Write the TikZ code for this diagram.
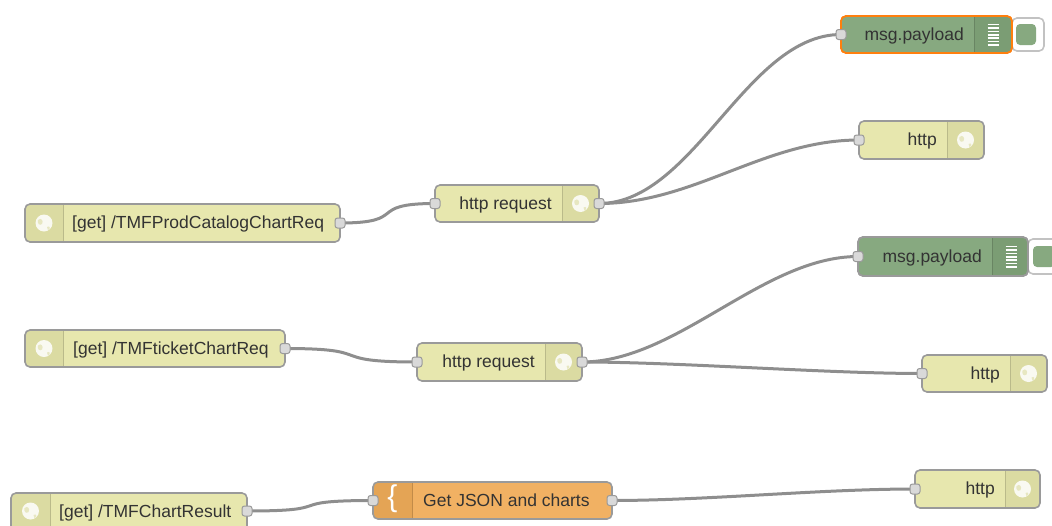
\documentclass[tikz,border=0pt]{standalone}
\usepackage{fontspec}
\setmainfont{Liberation Sans}
\definecolor{httpc}{HTML}{E7E7AE}
\definecolor{httpi}{HTML}{DBDBA2}
\definecolor{dbgc}{HTML}{87A980}
\definecolor{dbgi}{HTML}{7B9D74}
\definecolor{fnc}{HTML}{F1B163}
\definecolor{fni}{HTML}{E4A455}
\definecolor{bord}{HTML}{9A9A9A}
\definecolor{selb}{HTML}{FF7F0E}
\definecolor{txt}{HTML}{333333}
\definecolor{wirec}{HTML}{8E8E8E}
\definecolor{portc}{HTML}{D9D9D9}
\tikzset{
  nodebox/.style={inner sep=0pt, outer sep=0pt, rectangle},
  lbl/.style={inner sep=0pt, text=txt, font=\fontsize{17.5}{20}\selectfont},
  wire/.style={draw=wirec, line width=3pt},
  port/.style={draw=bord, fill=portc, line width=1pt, rounded corners=2.5pt, minimum size=10pt, inner sep=0pt},
  globe/.style={fill=white, opacity=0.85},
}
% name, l, t, r, b, sep, fill, icon fill, border colour
\newcommand\fnode[9]{%
  \pgfmathsetmacro\cx{(#2+#4)/2}\pgfmathsetmacro\cy{(#3+#5)/2}%
  \pgfmathsetmacro\ww{#4-#2}\pgfmathsetmacro\hh{#5-#3}%
  \pgfmathsetmacro\edge{(#6<\cx)?#2:#4}%
  \node[nodebox, fill=#7, rounded corners=5pt, minimum width=\ww pt, minimum height=\hh pt] (#1) at (\cx,\cy) {};
  \begin{scope}
    \clip[rounded corners=5pt] (#2,#3) rectangle (#4,#5);
    \fill[#8] (#6,#3) rectangle (\edge,#5);
    \draw[#8!85!black, line width=0.6pt] (#6,#3) -- (#6,#5);
  \end{scope}
  \draw[#9, line width=1.6pt, rounded corners=5pt] (#2,#3) rectangle (#4,#5);
}
\newcommand\globeicon[2]{%
  \begin{scope}[shift={(#1,#2)}]
    \fill[globe] (0,0) circle (8.5pt);
    \fill[httpi, opacity=0.6] (-6,-3) .. controls (-3,-6) and (0,-2) .. (-2,1) .. controls (-4,3) and (-7,1) .. cycle;
    \fill[httpi, opacity=0.6] (3,4) .. controls (6,2) and (7,6) .. (4,7) -- cycle;
  \end{scope}
}
\begin{document}
\begin{tikzpicture}[x=1pt,y=-1pt]
\useasboundingbox (0,0) rectangle (1052,525);
\clip (0,0) rectangle (1052,525);

% ---------- nodes ----------
% debug 1 (selected)
\fnode{dbg1}{841}{16}{1012}{53}{974}{dbgc}{dbgi}{selb}
% debug 2
\fnode{dbg2}{858}{237}{1028}{276}{992}{dbgc}{dbgi}{bord}
% http responses
\fnode{res1}{859}{121}{984}{159}{947}{httpc}{httpi}{bord}
\fnode{res2}{922}{355}{1047}{392}{1010}{httpc}{httpi}{bord}
\fnode{res3}{915}{470}{1040}{508}{1005}{httpc}{httpi}{bord}
% http in
\fnode{in1}{25}{204}{340}{242}{63}{httpc}{httpi}{bord}
\fnode{in2}{25}{330}{285}{367}{63}{httpc}{httpi}{bord}
\fnode{in3}{11}{493}{247}{533}{50}{httpc}{httpi}{bord}
% http request
\fnode{req1}{435}{185}{599}{222}{562}{httpc}{httpi}{bord}
\fnode{req2}{417}{343}{582}{381}{545}{httpc}{httpi}{bord}
% function
\fnode{fn}{373}{482}{612}{519}{412}{fnc}{fni}{bord}

% debug toggle buttons
\draw[bord!60, fill=white, line width=1.6pt, rounded corners=5pt] (1012,18) rectangle (1044,51);
\fill[dbgc, rounded corners=4pt] (1016,24) rectangle (1036,45);
\draw[bord!60, fill=white, line width=1.6pt, rounded corners=5pt] (1028,239) rectangle (1062,274);
\fill[dbgc, rounded corners=4pt] (1033,246) rectangle (1055,267);
% re-draw debug borders over the buttons
\draw[selb, line width=1.6pt, rounded corners=5pt] (841,16) rectangle (1012,53);
\draw[bord, line width=1.6pt, rounded corners=5pt] (858,237) rectangle (1028,276);

% ---------- icons ----------
\foreach \x/\y in {993/34.5, 1011/256.5}{
  \foreach \k in {0,...,6} \draw[white, line width=1.6pt] (\x-5.5,\y-10+3.4*\k) -- (\x+5.5,\y-10+3.4*\k);
}
\globeicon{965.5}{140}
\globeicon{1028.5}{373.5}
\globeicon{1022.5}{489}
\globeicon{580.5}{203.5}
\globeicon{563.5}{362}
\globeicon{44}{223}
\globeicon{44}{348.5}
\globeicon{30.5}{511}
\node[lbl, text=white, font=\fontsize{30}{30}\selectfont] (fnicon) at (392.5,499) {\{};

% ---------- labels ----------
\node[lbl, anchor=base east] (dbg1-t) at (964,40) {msg.payload};
\node[lbl, anchor=base east] (dbg2-t) at (982,262) {msg.payload};
\node[lbl, anchor=base east] (res1-t) at (937,145.5) {http};
\node[lbl, anchor=base east] (res2-t) at (1000,379) {http};
\node[lbl, anchor=base east] (res3-t) at (995,494.5) {http};
\node[lbl, anchor=base east] (req1-t) at (552,209) {http request};
\node[lbl, anchor=base east] (req2-t) at (535,367.5) {http request};
\node[lbl, anchor=base west] (in1-t) at (72,228.5) {[get] /TMFProdCatalogChartReq};
\node[lbl, anchor=base west] (in2-t) at (73,354) {[get] /TMFticketChartReq};
\node[lbl, anchor=base west] (in3-t) at (59,517) {[get] /TMFChartResult};
\node[lbl, anchor=base west] (fn-t) at (423,506) {Get JSON and charts};

% ---------- port positions ----------
\coordinate (dbg1-ip) at (dbg1.west);
\coordinate (dbg2-ip) at (dbg2.west);
\coordinate (res1-ip) at (res1.west);
\coordinate (res2-ip) at (res2.west);
\coordinate (res3-ip) at (res3.west);
\coordinate (req1-ip) at (req1.west);
\coordinate (req1-op) at (req1.east);
\coordinate (req2-ip) at (req2.west);
\coordinate (req2-op) at (req2.east);
\coordinate (in1-op) at (in1.east);
\coordinate (in2-op) at (in2.east);
\coordinate (in3-op) at (247,511);
\coordinate (fn-ip) at (fn.west);
\coordinate (fn-op) at (fn.east);

% ---------- wires ----------
\draw[wire] (in1-op) .. controls +(70,0) and +(-70,0) .. (req1-ip);
\draw[wire] (in2-op) .. controls +(95,0) and +(-95,0) .. (req2-ip);
\draw[wire] (in3-op) .. controls +(95,0) and +(-95,0) .. (fn-ip);
\draw[wire] (req1-op) .. controls +(95,0) and +(-95,0) .. (dbg1-ip);
\draw[wire] (req1-op) .. controls +(95,0) and +(-95,0) .. (res1-ip);
\draw[wire] (req2-op) .. controls +(95,0) and +(-95,0) .. (dbg2-ip);
\draw[wire] (req2-op) .. controls +(95,0) and +(-95,0) .. (res2-ip);
\draw[wire] (fn-op) .. controls +(95,0) and +(-95,0) .. (res3-ip);

% ---------- ports ----------
\node[port] (dbg1-i) at (dbg1-ip) {};
\node[port] (dbg2-i) at (dbg2-ip) {};
\node[port] (res1-i) at (res1-ip) {};
\node[port] (res2-i) at (res2-ip) {};
\node[port] (res3-i) at (res3-ip) {};
\node[port] (req1-i) at (req1-ip) {};
\node[port] (req1-o) at (req1-op) {};
\node[port] (req2-i) at (req2-ip) {};
\node[port] (req2-o) at (req2-op) {};
\node[port] (in1-o) at (in1-op) {};
\node[port] (in2-o) at (in2-op) {};
\node[port] (in3-o) at (in3-op) {};
\node[port] (fn-i) at (fn-ip) {};
\node[port] (fn-o) at (fn-op) {};
\end{tikzpicture}
\end{document}
